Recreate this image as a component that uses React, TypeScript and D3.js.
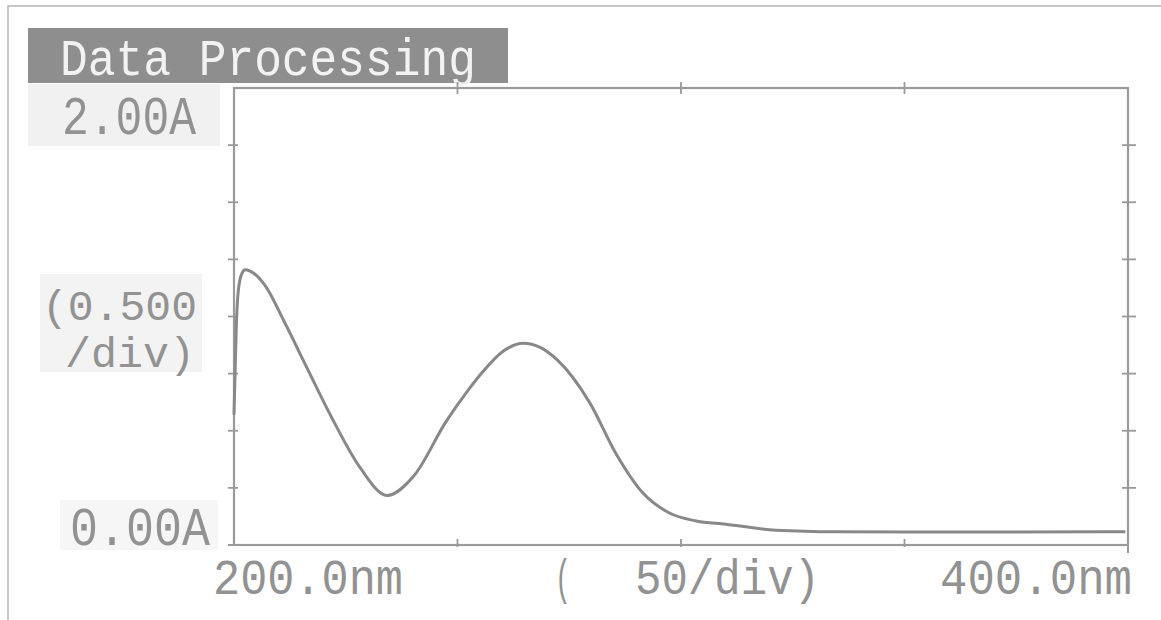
import React, { useEffect, useRef } from "react";
import * as d3 from "d3";

// spectrum
const wavelength = [200, 200.5, 201, 201.8, 202.5, 203.5, 206.9, 211.2, 216.3, 221.9, 228.3, 234.2, 240.3, 247.4, 252.6, 255.6, 260, 264.7, 268.5, 272.2, 279.6, 285.4, 291.6, 297.3, 303.4, 310, 321.2, 335, 351, 375, 399.4];
const absorbance = [0.57, 0.95, 1.12, 1.19, 1.205, 1.2, 1.137, 0.979, 0.776, 0.556, 0.336, 0.217, 0.304, 0.539, 0.683, 0.757, 0.845, 0.883, 0.865, 0.812, 0.622, 0.402, 0.225, 0.141, 0.105, 0.091, 0.065, 0.058, 0.057, 0.057, 0.058];

const xDomain = [200, 400];
const yDomain = [0, 2];
const xTicks = [250, 300, 350];
const yTicks = [0.25, 0.5, 0.75, 1, 1.25, 1.5, 1.75];

const title = "Data Processing";
const yTopLabel = "2.00A";
const yBottomLabel = "0.00A";
const yDivLabel = ["(0.500", "/div)"];
const xLeftLabel = "200.0nm";
const xRightLabel = "400.0nm";
const xDivLabel = ["(", "50/div)"];

const W = 1161;
const H = 620;
const ink = "#929292";
const font = "'Liberation Mono', 'DejaVu Sans Mono', monospace";

function App() {
  const ref = useRef<SVGSVGElement>(null);

  useEffect(() => {
    const svg = d3.select(ref.current);
    svg.selectAll("*").remove();

    const left = 234, right = 1128, top = 88, bottom = 545;
    const x = d3.scaleLinear().domain(xDomain).range([left, right]);
    const y = d3.scaleLinear().domain(yDomain).range([bottom, top]);

    svg.append("rect").attr("width", W).attr("height", H).attr("fill", "#fff");

    // page border of the scan
    svg.append("path")
      .attr("d", `M8,${H} L8,6 L${W},6`)
      .attr("fill", "none").attr("stroke", "#b5b5b5").attr("stroke-width", 1.5);

    // title bar
    svg.append("rect").attr("x", 28).attr("y", 28).attr("width", 480).attr("height", 55).attr("fill", "#8e8e8e");
    const txt = (s: string, x0: number, yb: number, len: number, size: number, fill = ink) =>
      svg.append("text").text(s)
        .attr("x", x0).attr("y", yb)
        .attr("font-family", font).attr("font-size", size)
        .attr("textLength", len).attr("lengthAdjust", "spacingAndGlyphs")
        .attr("fill", fill);

    txt(title, 60, 75, 416, 52, "#f2f2f2");

    // light label boxes
    svg.append("rect").attr("x", 28).attr("y", 84).attr("width", 192).attr("height", 62).attr("fill", "#f1f1f1");
    svg.append("rect").attr("x", 40).attr("y", 274).attr("width", 162).attr("height", 98).attr("fill", "#f3f3f3");
    svg.append("rect").attr("x", 60).attr("y", 500).attr("width", 158).attr("height", 50).attr("fill", "#f6f6f6");

    txt(yTopLabel, 62, 134, 134, 54);
    txt(yDivLabel[0], 42, 320, 155, 42);
    txt(yDivLabel[1], 65, 367, 130, 42);
    txt(yBottomLabel, 70, 545, 140, 54);
    txt(xLeftLabel, 213, 594, 190, 50);
    txt(xDivLabel[0], 555, 594, 16, 50);
    txt(xDivLabel[1], 635, 594, 185, 50);
    txt(xRightLabel, 940, 594, 192, 50);

    // frame
    const g = svg.append("g").attr("stroke", "#9a9a9a").attr("fill", "none");
    g.append("rect")
      .attr("x", x(xDomain[0])).attr("y", y(yDomain[1]))
      .attr("width", x(xDomain[1]) - x(xDomain[0]))
      .attr("height", y(yDomain[0]) - y(yDomain[1]))
      .attr("stroke-width", 2.2);

    // ticks
    g.selectAll(".yl").data(yTicks).join("line")
      .attr("x1", left - 6).attr("x2", left + 4)
      .attr("y1", (d) => y(d)).attr("y2", (d) => y(d)).attr("stroke-width", 1.8);
    g.selectAll(".yr").data(yTicks).join("line")
      .attr("x1", right - 6).attr("x2", right + 8)
      .attr("y1", (d) => y(d)).attr("y2", (d) => y(d)).attr("stroke-width", 1.8);
    g.selectAll(".xt").data(xTicks).join("line")
      .attr("x1", (d) => x(d)).attr("x2", (d) => x(d))
      .attr("y1", top - 6).attr("y2", top + 6).attr("stroke-width", 1.8);
    g.selectAll(".xb").data(xTicks).join("line")
      .attr("x1", (d) => x(d)).attr("x2", (d) => x(d))
      .attr("y1", bottom - 6).attr("y2", bottom + 2).attr("stroke-width", 1.8);
    g.append("line").attr("x1", left - 6).attr("x2", left + 6).attr("y1", bottom).attr("y2", bottom).attr("stroke-width", 2);
    g.append("line").attr("x1", right).attr("x2", right).attr("y1", bottom - 4).attr("y2", bottom + 8).attr("stroke-width", 2);

    // spectrum
    const pts = wavelength.map((w, i) => [w, absorbance[i]] as [number, number]);
    svg.append("path")
      .datum(pts)
      .attr("fill", "none")
      .attr("stroke", "#888")
      .attr("stroke-width", 3)
      .attr("stroke-linejoin", "round")
      .attr("d", d3.line<[number, number]>()
        .x((d) => x(d[0]))
        .y((d) => y(d[1]))
        .curve(d3.curveMonotoneX));
  }, []);

  return (
    <svg ref={ref} width={W} height={H}
      style={{ position: "absolute", left: 0, top: 0, display: "block" }} />
  );
}

export default App;
